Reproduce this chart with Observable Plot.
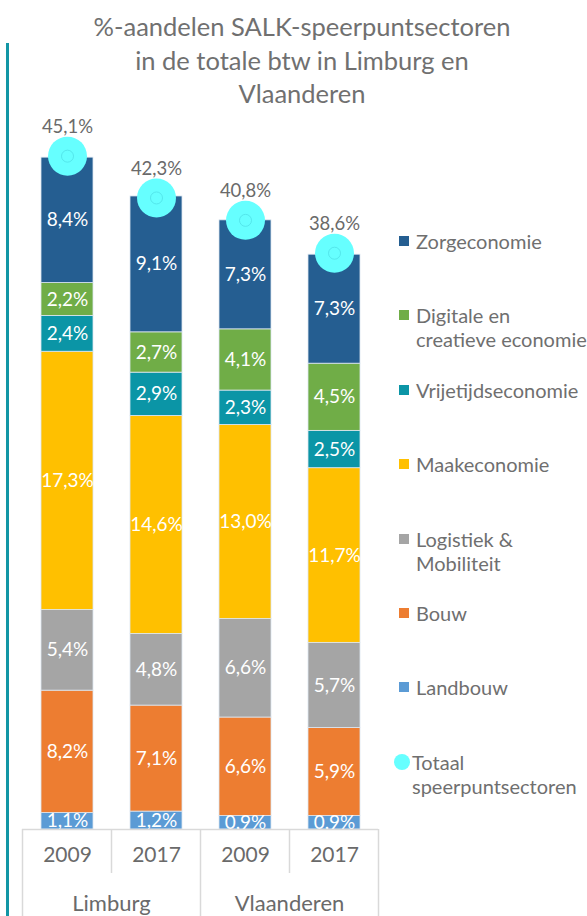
<!DOCTYPE html>
<html><head><meta charset="utf-8">
<script src="https://cdn.jsdelivr.net/npm/d3@7"></script>
<script src="https://cdn.jsdelivr.net/npm/@observablehq/plot@0.6"></script>
<style>
body{margin:0;background:#fff;font-family:Lato,"Open Sans",sans-serif;}
#wrap{position:relative;width:587px;height:916px;overflow:hidden;background:#fff;}
#bar{position:absolute;left:6px;top:43px;width:3px;bottom:0;background:#1296a5;}
#title{position:absolute;left:20px;width:564px;top:10px;text-align:center;font-size:25.5px;line-height:33.5px;color:#707070;white-space:nowrap;}
#chart{position:absolute;left:0;top:0;}
#legend{position:absolute;left:399px;top:229px;display:flex;flex-direction:column;}
.item{height:74.4px;display:flex;align-items:flex-start;}
.sw{width:10px;height:10px;margin-top:7px;margin-right:7px;flex:none;}
.lab{font-size:20px;line-height:24px;color:#6f6f6f;white-space:nowrap;}
</style></head><body>
<div id="wrap">
<div id="bar"></div>
<div id="title">%-aandelen SALK-speerpuntsectoren<br>in de totale btw in Limburg en<br>Vlaanderen</div>
<div id="chart"></div>
<div id="legend"></div>
</div>
<script>
const regions = ["Limburg","Limburg","Vlaanderen","Vlaanderen"];
const years = ["2009","2017","2009","2017"];
const sectors = ["Landbouw","Bouw","Logistiek & Mobiliteit","Maakeconomie","Vrijetijdseconomie","Digitale en creatieve economie","Zorgeconomie"];
const legendLabels = ["Landbouw","Bouw","Logistiek &<br>Mobiliteit","Maakeconomie","Vrijetijdseconomie","Digitale en<br>creatieve economie","Zorgeconomie"];
const colors = ["#5B9BD5","#ED7D31","#A5A5A5","#FFC000","#0B95A6","#70AD47","#255E91"];
const landbouw = [1.1,1.2,0.9,0.9];
const bouw = [8.2,7.1,6.6,5.9];
const logistiek = [5.4,4.8,6.6,5.7];
const maak = [17.3,14.6,13.0,11.7];
const vrijetijd = [2.4,2.9,2.3,2.5];
const digitaal = [2.2,2.7,4.1,4.5];
const zorg = [8.4,9.1,7.3,7.3];
const totals = [45.1,42.3,40.8,38.6];
const totalLabel = "Totaal<br>speerpuntsectoren";
const totalColor = "#66FFFF";

const series = [landbouw,bouw,logistiek,maak,vrijetijd,digitaal,zorg];
const keys = regions.map((r,i)=>r+"|"+years[i]);
const rows = [];
sectors.forEach((s,j)=>keys.forEach((k,i)=>rows.push({key:k,sector:s,value:series[j][i]})));
const totalRows = keys.map((k,i)=>({key:k,total:totals[i]}));
const fmt = v => v.toFixed(1).replace(".",",")+"%";
const FONT = "Lato, 'Open Sans', sans-serif";

const plot = Plot.plot({
  width:587, height:916,
  marginLeft:22, marginRight:209, marginTop:82.5, marginBottom:87,
  x:{domain:keys, paddingInner:0.416, paddingOuter:0.208, axis:null},
  y:{domain:[0,50], axis:null},
  color:{domain:sectors, range:colors},
  style:{fontFamily:FONT, background:"transparent", overflow:"visible"},
  marks:[
    Plot.barY(rows,{x:"key",y:"value",fill:"sector",order:sectors,stroke:"#dde7f1",strokeWidth:0.8}),
    Plot.text(rows,Plot.stackY({x:"key",y:"value",z:"sector",order:sectors,text:d=>fmt(d.value),fill:"white",fontSize:19,clip:true})),
    Plot.dot(totalRows,{x:"key",y:"total",r:19.5,fill:totalColor}),
    Plot.dot(totalRows,{x:"key",y:"total",r:6,stroke:"#4fdfe6",strokeWidth:0.8,fill:"none"}),
    Plot.text(totalRows,{x:"key",y:"total",text:d=>fmt(d.total),dy:-29,fill:"#6a6a6a",fontSize:18.5}),
    Plot.ruleY([0],{stroke:"#d9d9d9",strokeWidth:1.5}),
    Plot.axisX({tickFormat:k=>k.split("|")[1],tickSize:0,tickPadding:18,fontSize:21,fill:"#6a6a6a",label:null})
  ]
});
document.getElementById("chart").appendChild(plot);

// grouped axis lines & region labels from the plot's own scales
const xs = plot.scale("x"), ys = plot.scale("y");
const step = xs.apply(keys[1]) - xs.apply(keys[0]);
const bw = xs.bandwidth;
const y0 = ys.apply(0);
const svg = d3.select(plot);
const g = svg.append("g").attr("stroke","#d9d9d9").attr("stroke-width",1.5);
keys.forEach((k,i)=>{
  const left = xs.apply(k) - (step-bw)/2;
  const groupStart = i===0 || regions[i]!==regions[i-1];
  g.append("line").attr("x1",left).attr("x2",left).attr("y1",y0).attr("y2",groupStart?916:y0+44);
});
const lastRight = xs.apply(keys[keys.length-1]) + bw + (step-bw)/2;
g.append("line").attr("x1",lastRight).attr("x2",lastRight).attr("y1",y0).attr("y2",916);
const groups = Array.from(new Set(regions));
groups.forEach(r=>{
  const ks = keys.filter((k,i)=>regions[i]===r);
  const a = xs.apply(ks[0]) - (step-bw)/2;
  const b = xs.apply(ks[ks.length-1]) + bw + (step-bw)/2;
  svg.append("text").attr("x",(a+b)/2).attr("y",y0+82).attr("text-anchor","middle")
    .attr("font-size",22).attr("fill","#6a6a6a").attr("font-family",FONT).text(r);
});

// legend
const leg = document.getElementById("legend");
const items = sectors.map((s,j)=>({label:legendLabels[j],color:colors[j],shape:"square"})).reverse();
items.push({label:totalLabel,color:totalColor,shape:"circle"});
items.forEach(it=>{
  const d = document.createElement("div"); d.className="item";
  const sw = document.createElement("div"); sw.className="sw"; sw.style.background=it.color;
  if(it.shape==="circle"){sw.style.width="16px";sw.style.height="16px";sw.style.borderRadius="50%";sw.style.marginLeft="-5px";sw.style.marginRight="2px";sw.style.marginTop="4px";}
  const l = document.createElement("div"); l.className="lab"; l.innerHTML=it.label;
  d.appendChild(sw); d.appendChild(l); leg.appendChild(d);
});
</script>
</body></html>
